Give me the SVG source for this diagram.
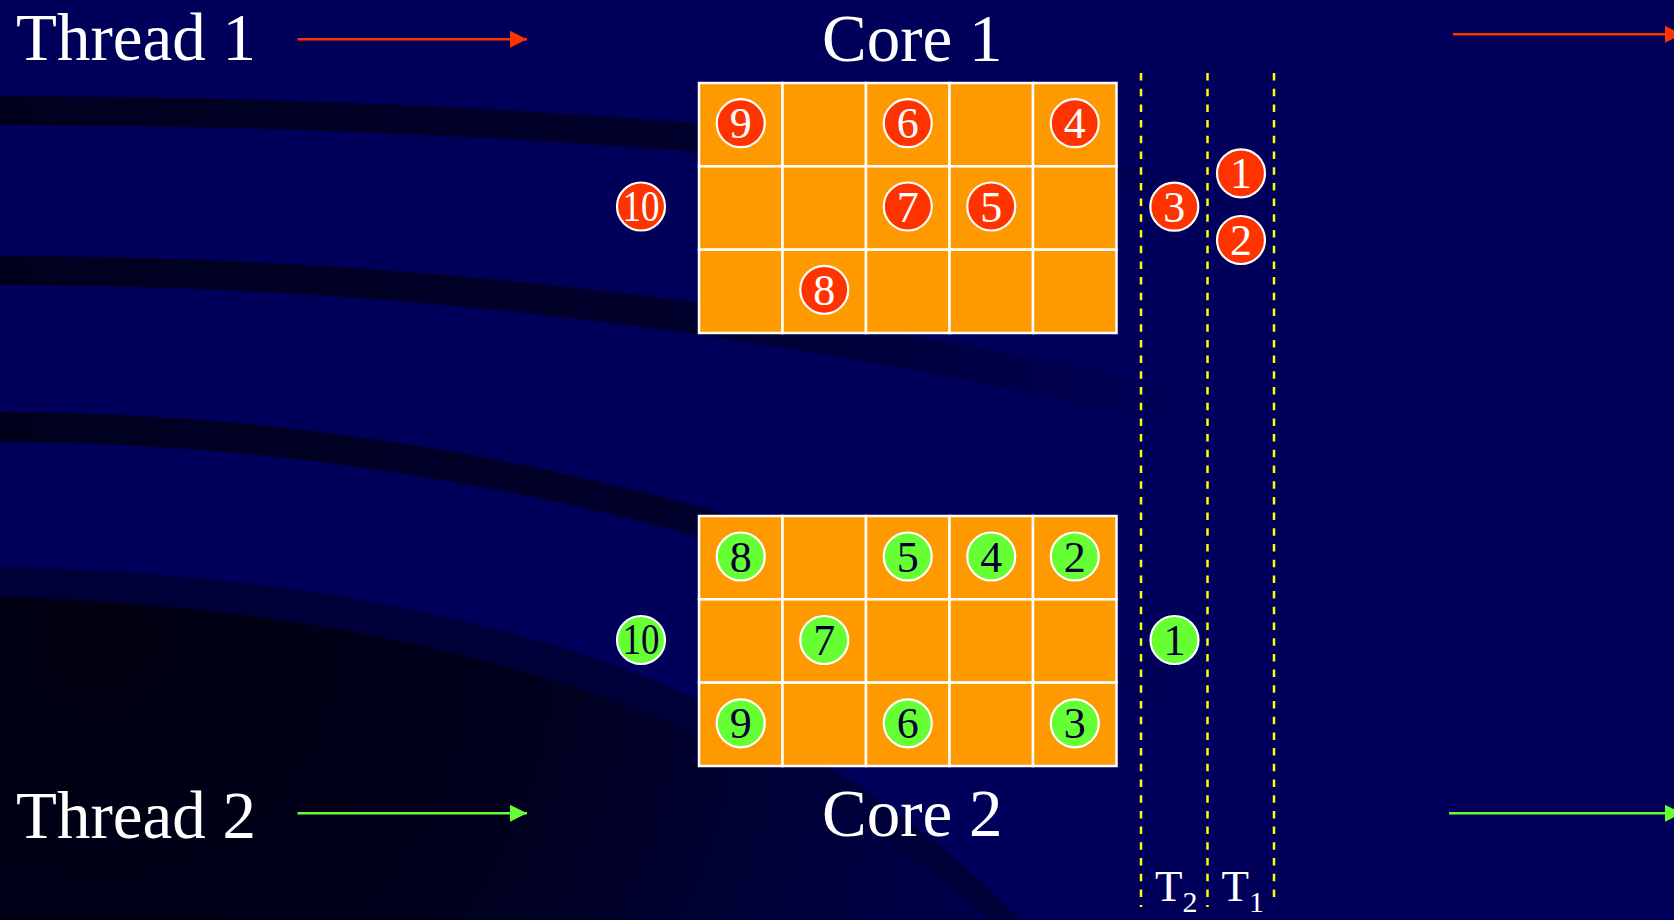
<svg xmlns="http://www.w3.org/2000/svg" width="1674" height="920" viewBox="0 0 1674 920">
<defs>
<style>
.lbl{font-family:"Liberation Serif","Times New Roman",serif;fill:#ffffff;font-size:67px}
.tl{font-family:"Liberation Serif","Times New Roman",serif;fill:#ffffff;font-size:45px}
.cell{fill:#FF9900;stroke:#ffffff;stroke-width:2.5}
.rc{fill:#FF3300;stroke:#ffffff;stroke-width:2.2}
.gc{fill:#66FF33;stroke:#ffffff;stroke-width:2.2}
.num{font-family:"Liberation Serif","Times New Roman",serif;font-size:44px;text-anchor:middle}
.rn{fill:#ffffff}
.gn{fill:#000033}
.dash{stroke:#FFFF00;stroke-width:2.5;stroke-dasharray:7.5 8.2;fill:none}
.ar{stroke:#FF3300;stroke-width:2.5;fill:none}
.ag{stroke:#66FF33;stroke-width:2.5;fill:none}
</style>
<linearGradient id="streak" gradientUnits="userSpaceOnUse" x1="0" y1="0" x2="1400" y2="0">
<stop offset="0" stop-color="#00001E"/>
<stop offset="0.5" stop-color="#00002C"/>
<stop offset="0.72" stop-color="#000048"/>
<stop offset="0.85" stop-color="#00005A"/>
</linearGradient>
<radialGradient id="dark" gradientUnits="userSpaceOnUse" cx="100" cy="640" r="900">
<stop offset="0" stop-color="#000010"/>
<stop offset="0.5" stop-color="#00001E"/>
<stop offset="1" stop-color="#00004A"/>
</radialGradient>
<marker id="headR" markerUnits="userSpaceOnUse" markerWidth="18" markerHeight="18" refX="17" refY="8.5" orient="auto">
<path d="M0,0 L17,8.5 L0,17 Z" fill="#FF3300"/>
</marker>
<marker id="headG" markerUnits="userSpaceOnUse" markerWidth="18" markerHeight="18" refX="17" refY="8.5" orient="auto">
<path d="M0,0 L17,8.5 L0,17 Z" fill="#66FF33"/>
</marker>
</defs>

<g id="background">
<rect x="0" y="0" width="1674" height="920" fill="#00005A"/>
<path d="M0,96 Q700,96 1400,204 L1400,233 Q700,125 0,125 Z" fill="url(#streak)"/>
<path d="M0,256 Q700,256 1400,444 L1400,485 Q700,285 0,285 Z" fill="url(#streak)"/>
<path d="M0,412 Q700,412 1400,792 L1400,822 Q700,442 0,442 Z" fill="url(#streak)"/>
<path d="M0,567 C350,575 750,640 1020,920 L0,920 Z" fill="#000038"/>
<path d="M0,597 C350,607 720,680 990,920 L0,920 Z" fill="url(#dark)"/>
</g>

<g id="labels">
<text class="lbl" x="16" y="60">Thread 1</text>
<text class="lbl" x="822" y="61">Core 1</text>
<text class="lbl" x="16" y="838">Thread 2</text>
<text class="lbl" x="822" y="836">Core 2</text>
</g>

<g id="connectors">
<line class="ar" x1="297.5" y1="39.3" x2="527" y2="39.3" marker-end="url(#headR)"/>
<line class="ar" x1="1453" y1="34.3" x2="1682" y2="34.3" marker-end="url(#headR)"/>
<line class="ag" x1="297.5" y1="813.3" x2="527" y2="813.3" marker-end="url(#headG)"/>
<line class="ag" x1="1449" y1="813.3" x2="1682" y2="813.3" marker-end="url(#headG)"/>
</g>

<g id="time-dividers">
<line class="dash" x1="1141" y1="73" x2="1141" y2="907"/>
<line class="dash" x1="1207.5" y1="73" x2="1207.5" y2="907"/>
<line class="dash" x1="1274" y1="73" x2="1274" y2="900"/>
<text class="tl" x="1155" y="901">T<tspan font-size="30" dy="11">2</tspan></text>
<text class="tl" x="1221.5" y="901">T<tspan font-size="30" dy="11">1</tspan></text>
</g>

<g id="core1-grid">
<rect class="cell" x="699" y="83" width="83.5" height="83.33"/>
<rect class="cell" x="782.5" y="83" width="83.5" height="83.33"/>
<rect class="cell" x="866" y="83" width="83.5" height="83.33"/>
<rect class="cell" x="949.5" y="83" width="83.5" height="83.33"/>
<rect class="cell" x="1033" y="83" width="83.5" height="83.33"/>
<rect class="cell" x="699" y="166.33" width="83.5" height="83.33"/>
<rect class="cell" x="782.5" y="166.33" width="83.5" height="83.33"/>
<rect class="cell" x="866" y="166.33" width="83.5" height="83.33"/>
<rect class="cell" x="949.5" y="166.33" width="83.5" height="83.33"/>
<rect class="cell" x="1033" y="166.33" width="83.5" height="83.33"/>
<rect class="cell" x="699" y="249.67" width="83.5" height="83.33"/>
<rect class="cell" x="782.5" y="249.67" width="83.5" height="83.33"/>
<rect class="cell" x="866" y="249.67" width="83.5" height="83.33"/>
<rect class="cell" x="949.5" y="249.67" width="83.5" height="83.33"/>
<rect class="cell" x="1033" y="249.67" width="83.5" height="83.33"/>
</g>

<g id="core2-grid">
<rect class="cell" x="699" y="516" width="83.5" height="83.33"/>
<rect class="cell" x="782.5" y="516" width="83.5" height="83.33"/>
<rect class="cell" x="866" y="516" width="83.5" height="83.33"/>
<rect class="cell" x="949.5" y="516" width="83.5" height="83.33"/>
<rect class="cell" x="1033" y="516" width="83.5" height="83.33"/>
<rect class="cell" x="699" y="599.33" width="83.5" height="83.33"/>
<rect class="cell" x="782.5" y="599.33" width="83.5" height="83.33"/>
<rect class="cell" x="866" y="599.33" width="83.5" height="83.33"/>
<rect class="cell" x="949.5" y="599.33" width="83.5" height="83.33"/>
<rect class="cell" x="1033" y="599.33" width="83.5" height="83.33"/>
<rect class="cell" x="699" y="682.67" width="83.5" height="83.33"/>
<rect class="cell" x="782.5" y="682.67" width="83.5" height="83.33"/>
<rect class="cell" x="866" y="682.67" width="83.5" height="83.33"/>
<rect class="cell" x="949.5" y="682.67" width="83.5" height="83.33"/>
<rect class="cell" x="1033" y="682.67" width="83.5" height="83.33"/>
</g>

<g id="t1-9"><circle class="rc" cx="740.75" cy="123.2" r="24"/><text class="num rn" x="740.75" y="138.2">9</text></g>
<g id="t1-6"><circle class="rc" cx="907.75" cy="123.2" r="24"/><text class="num rn" x="907.75" y="138.2">6</text></g>
<g id="t1-4"><circle class="rc" cx="1074.75" cy="123.2" r="24"/><text class="num rn" x="1074.75" y="138.2">4</text></g>
<g id="t1-7"><circle class="rc" cx="907.75" cy="206.5" r="24"/><text class="num rn" x="907.75" y="221.5">7</text></g>
<g id="t1-5"><circle class="rc" cx="991.25" cy="206.5" r="24"/><text class="num rn" x="991.25" y="221.5">5</text></g>
<g id="t1-8"><circle class="rc" cx="824.25" cy="289.8" r="24"/><text class="num rn" x="824.25" y="304.8">8</text></g>
<g id="t1-10"><circle class="rc" cx="641" cy="206.5" r="24"/><text class="num rn" x="641" y="220.5" font-size="40" textLength="37" lengthAdjust="spacingAndGlyphs">10</text></g>
<g id="t1-3"><circle class="rc" cx="1174.3" cy="206.7" r="24"/><text class="num rn" x="1174.3" y="221.7">3</text></g>
<g id="t1-1"><circle class="rc" cx="1241" cy="173.3" r="24"/><text class="num rn" x="1241" y="188.3">1</text></g>
<g id="t1-2"><circle class="rc" cx="1241" cy="240" r="24"/><text class="num rn" x="1241" y="255">2</text></g>

<g id="t2-8"><circle class="gc" cx="740.75" cy="556.5" r="24"/><text class="num gn" x="740.75" y="571.5">8</text></g>
<g id="t2-5"><circle class="gc" cx="907.75" cy="556.5" r="24"/><text class="num gn" x="907.75" y="571.5">5</text></g>
<g id="t2-4"><circle class="gc" cx="991.25" cy="556.5" r="24"/><text class="num gn" x="991.25" y="571.5">4</text></g>
<g id="t2-2"><circle class="gc" cx="1074.75" cy="556.5" r="24"/><text class="num gn" x="1074.75" y="571.5">2</text></g>
<g id="t2-7"><circle class="gc" cx="824.25" cy="640" r="24"/><text class="num gn" x="824.25" y="655">7</text></g>
<g id="t2-9"><circle class="gc" cx="740.75" cy="723.3" r="24"/><text class="num gn" x="740.75" y="738.3">9</text></g>
<g id="t2-6"><circle class="gc" cx="907.75" cy="723.3" r="24"/><text class="num gn" x="907.75" y="738.3">6</text></g>
<g id="t2-3"><circle class="gc" cx="1074.75" cy="723.3" r="24"/><text class="num gn" x="1074.75" y="738.3">3</text></g>
<g id="t2-10"><circle class="gc" cx="641" cy="640" r="24"/><text class="num gn" x="641" y="654" font-size="40" textLength="37" lengthAdjust="spacingAndGlyphs">10</text></g>
<g id="t2-1"><circle class="gc" cx="1174.5" cy="640" r="24"/><text class="num gn" x="1174.5" y="655">1</text></g>
</svg>
